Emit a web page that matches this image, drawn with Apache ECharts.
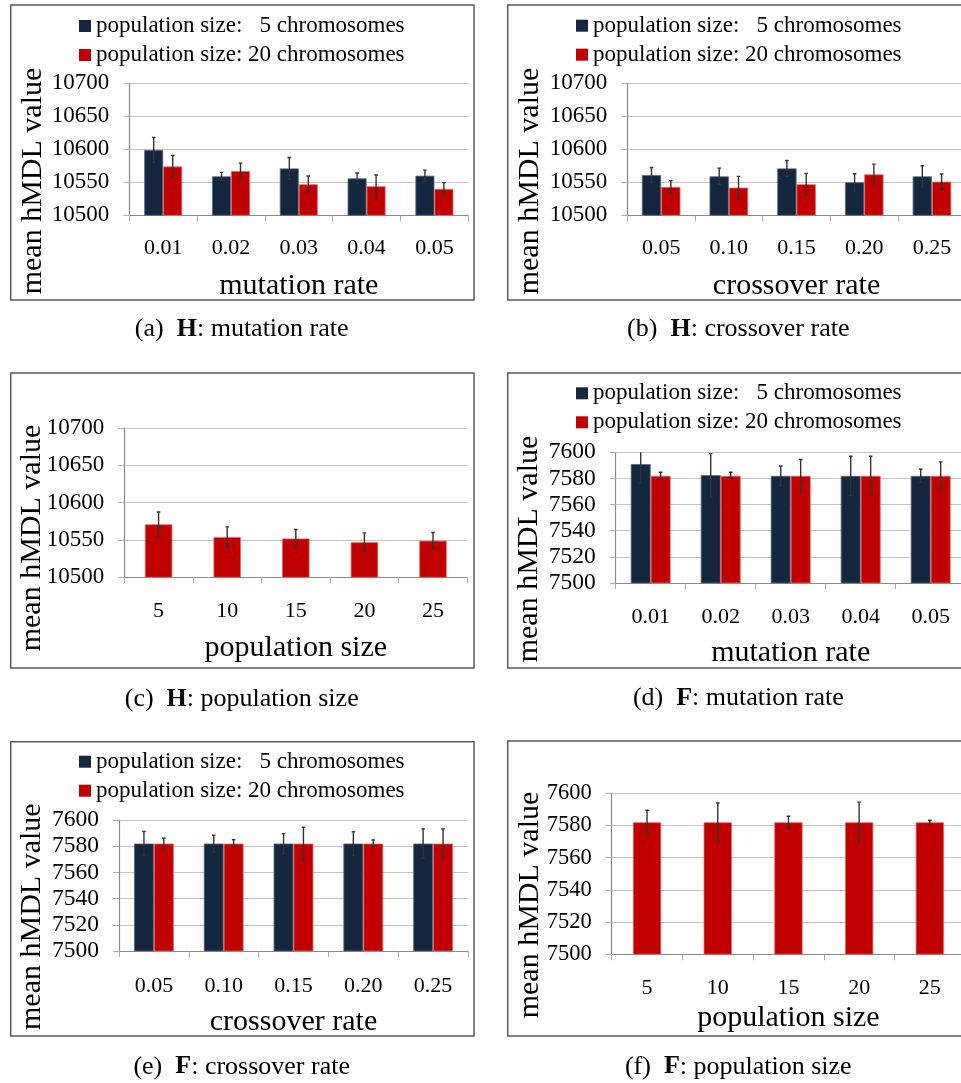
<!DOCTYPE html>
<html>
<head>
<meta charset="utf-8">
<title>mean hMDL value</title>
<script src="https://cdn.jsdelivr.net/npm/echarts@6/dist/echarts.min.js"></script>
<style>
  html, body { margin: 0; padding: 0; background: #fff; overflow: hidden; }
  #chart { width: 970px; height: 1083px; }
</style>
</head>
<body>
<div id="chart"></div>
<script>
// ---- categories and tick values ----
const mutationRates = ['0.01', '0.02', '0.03', '0.04', '0.05'];
const crossoverRates = ['0.05', '0.10', '0.15', '0.20', '0.25'];
const populationSizes = ['5', '10', '15', '20', '25'];
const yTicksH = [10500, 10550, 10600, 10650, 10700];
const yTicksF = [7500, 7520, 7540, 7560, 7580, 7600];
const legend5 = 'population size:   5 chromosomes';
const legend20 = 'population size: 20 chromosomes';

// ---- H: mutation rate ----
const hMutMean5 = [10599, 10559, 10571, 10556, 10560];
const hMutErr5 = [19, 6, 16.5, 8, 8.5];
const hMutMean20 = [10574, 10567, 10547, 10544, 10540];
const hMutErr20 = [16.5, 12, 12.5, 17, 9.5];

// ---- H: crossover rate ----
const hCrossMean5 = [10561, 10559, 10571, 10550, 10559];
const hCrossErr5 = [11.5, 12.5, 12, 13, 16];
const hCrossMean20 = [10543, 10542, 10547, 10562, 10551];
const hCrossErr20 = [9.5, 17, 16.5, 15.5, 11.5];

// ---- H: population size ----
const hPopMean = [10571, 10554, 10552, 10547, 10549];
const hPopErr = [16.5, 13.5, 12, 12.5, 11];

// ---- F: mutation rate ----
const fMutMean5 = [7591, 7582.5, 7582, 7582, 7582];
const fMutErr5 = [14.5, 16.5, 7.5, 15, 5];
const fMutMean20 = [7582, 7582, 7582, 7582, 7582];
const fMutErr20 = [2.7, 2.7, 12.5, 15, 10.7];

// ---- F: crossover rate ----
const fCrossMean5 = [7582, 7582, 7582, 7582, 7582];
const fCrossErr5 = [9.3, 6.4, 7.5, 9, 11.2];
const fCrossMean20 = [7582, 7582, 7582, 7582, 7582];
const fCrossErr20 = [4.2, 3, 12.5, 2.8, 11.2];

// ---- F: population size ----
const fPopMean = [7582, 7582, 7582, 7582, 7582];
const fPopErr = [7.5, 12, 3.7, 12.5, 1.3];

// ---- styling ----
const NAVY = '#15263f';
const NAVY_EDGE = '#5a6a84';
const RED = '#c00000';
const RED_EDGE = '#e46a6a';
const FONT = "'Liberation Serif', 'Times New Roman', serif";
const AXIS_GRAY = '#8a8a8a';
const GRID_GRAY = '#c4c4c4';

// panel layout: plot rectangle, frame, legend and text positions
const panels = [
  { id: 'a', grid: { left: 129.3, top: 83.3, width: 339, height: 132 }, cats: mutationRates, ticks: yTicksH,
    bars: [[hMutMean5, hMutErr5, 5], [hMutMean20, hMutErr20, 20]], gap: 0.44,
    xName: 'mutation rate', nameGap: 56, labelMargin: 22, yLabelSize: 23,
    yTitle: [33, 181], legend: [79, 14.5], frame: [10.7, 5, 463.3, 295],
    caption: ['(a)', 'H', 'mutation rate'], capPos: [241.7, 329] },
  { id: 'b', grid: { left: 627.3, top: 83.3, width: 338.5, height: 132 }, cats: crossoverRates, ticks: yTicksH,
    bars: [[hCrossMean5, hCrossErr5, 5], [hCrossMean20, hCrossErr20, 20]], gap: 0.43,
    xName: 'crossover rate', nameGap: 56, labelMargin: 22, yLabelSize: 23,
    yTitle: [530, 181], legend: [576, 14.2], frame: [507.7, 5, 470, 295],
    caption: ['(b)', 'H', 'crossover rate'], capPos: [738.3, 329] },
  { id: 'c', grid: { left: 124.3, top: 428, width: 343, height: 149.3 }, cats: populationSizes, ticks: yTicksH,
    bars: [[hPopMean, hPopErr, 20]], gap: 0.60,
    xName: 'population size', nameGap: 56, labelMargin: 23.3, yLabelSize: 23,
    yTitle: [32, 538], legend: null, frame: [10.7, 373, 463.3, 295],
    caption: ['(c)', 'H', 'population size'], capPos: [241.7, 699] },
  { id: 'd', grid: { left: 615.7, top: 452.3, width: 350, height: 130.7 }, cats: mutationRates, ticks: yTicksF,
    bars: [[fMutMean5, fMutErr5, 5], [fMutMean20, fMutErr20, 20]], gap: 0.43,
    xName: 'mutation rate', nameGap: 55.5, labelMargin: 23.3, yLabelSize: 23.5,
    yTitle: [529, 549], legend: [576, 381.8], frame: [507.7, 373, 470, 295],
    caption: ['(d)', 'F', 'mutation rate'], capPos: [738.3, 698] },
  { id: 'e', grid: { left: 119, top: 820, width: 349, height: 131 }, cats: crossoverRates, ticks: yTicksF,
    bars: [[fCrossMean5, fCrossErr5, 5], [fCrossMean20, fCrossErr20, 20]], gap: 0.43,
    xName: 'crossover rate', nameGap: 56, labelMargin: 24, yLabelSize: 23.5,
    yTitle: [32.5, 916.7], legend: [79, 750.2], frame: [10.7, 741.7, 463.3, 294.3],
    caption: ['(e)', 'F', 'crossover rate'], capPos: [241.7, 1066.7] },
  { id: 'f', grid: { left: 611.7, top: 793.3, width: 353.5, height: 161 }, cats: populationSizes, ticks: yTicksF,
    bars: [[fPopMean, fPopErr, 20]], gap: 0.60,
    xName: 'population size', nameGap: 48.5, labelMargin: 23, yLabelSize: 22.5,
    yTitle: [530, 905], legend: null, frame: [507.7, 741, 470, 295],
    caption: ['(f)', 'F', 'population size'], capPos: [738.3, 1066.7] }
];

// error bars drawn at the centre of the matching bar slot within each category
function errorBars(axisIndex, means, errs, slot, slots, gap) {
  return {
    type: 'custom',
    xAxisIndex: axisIndex,
    yAxisIndex: axisIndex,
    clip: true,
    z: 5,
    silent: true,
    data: means.map((m, i) => [i, m - errs[i], m + errs[i]]),
    renderItem: function (params, api) {
      const i = api.value(0);
      const lo = api.coord([i, api.value(1)]);
      const hi = api.coord([i, api.value(2)]);
      const band = api.size([1, 0])[0];
      const bw = band * (1 - gap) / slots;
      const x = lo[0] + (slot - (slots - 1) / 2) * bw;
      const cap = 1.8;
      const style = { stroke: '#333333', lineWidth: 1.4 };
      return {
        type: 'group',
        children: [
          { type: 'line', shape: { x1: x, y1: hi[1], x2: x, y2: lo[1] }, style: style },
          { type: 'line', shape: { x1: x - cap, y1: hi[1], x2: x + cap, y2: hi[1] }, style: style },
          { type: 'line', shape: { x1: x - cap, y1: lo[1], x2: x + cap, y2: lo[1] }, style: style }
        ]
      };
    }
  };
}

const grids = [], xAxes = [], yAxes = [], series = [], legends = [], graphics = [];

panels.forEach(function (p, k) {
  grids.push(Object.assign({ containLabel: false }, p.grid));

  xAxes.push({
    type: 'category',
    gridIndex: k,
    data: p.cats,
    boundaryGap: true,
    axisLine: { lineStyle: { color: AXIS_GRAY, width: 1.2 } },
    axisTick: { show: true, length: 6, inside: false, lineStyle: { color: '#a8a8a8' } },
    axisLabel: { margin: p.labelMargin, fontFamily: FONT, fontSize: 22, lineHeight: 22, color: '#000' },
    name: p.xName,
    nameLocation: 'middle',
    nameGap: p.nameGap,
    nameTextStyle: { fontFamily: FONT, fontSize: 30, lineHeight: 30, color: '#000' }
  });

  const t = p.ticks;
  yAxes.push({
    type: 'value',
    gridIndex: k,
    min: t[0],
    max: t[t.length - 1],
    interval: t[1] - t[0],
    axisLine: { show: true, lineStyle: { color: AXIS_GRAY, width: 1.2 } },
    axisTick: { show: true, length: 6, inside: false, lineStyle: { color: '#b0b0b0' } },
    splitLine: { show: true, lineStyle: { color: GRID_GRAY, width: 1.2 } },
    axisLabel: {
      margin: 20, fontFamily: FONT, fontSize: p.yLabelSize, color: '#000',
      formatter: function (v) { return String(v); }
    }
  });

  const slots = p.bars.length;
  p.bars.forEach(function (b, s) {
    const isFive = b[2] === 5;
    series.push({
      type: 'bar',
      name: isFive ? legend5 : legend20,
      xAxisIndex: k,
      yAxisIndex: k,
      data: b[0],
      barGap: '0%',
      barCategoryGap: (p.gap * 100) + '%',
      itemStyle: {
        color: isFive ? NAVY : RED,
        borderColor: isFive ? NAVY_EDGE : RED_EDGE,
        borderWidth: 0.8
      },
      emphasis: { disabled: true },
      animation: false
    });
    series.push(errorBars(k, b[0], b[1], s, slots, p.gap));
  });

  if (p.legend) {
    legends.push({
      left: p.legend[0],
      top: p.legend[1],
      orient: 'vertical',
      padding: 0,
      itemWidth: 12,
      itemHeight: 12,
      itemGap: 6,
      icon: 'rect',
      selectedMode: false,
      itemStyle: { borderWidth: 0 },
      data: [legend5, legend20],
      textStyle: { fontFamily: FONT, fontSize: 23, lineHeight: 23, color: '#000' }
    });
  }

  // panel frame
  graphics.push({
    type: 'rect',
    silent: true,
    shape: { x: p.frame[0], y: p.frame[1], width: p.frame[2], height: p.frame[3] },
    style: { fill: null, stroke: '#5a5a5a', lineWidth: 1.5 },
    z: 100
  });

  // vertical value-axis title
  graphics.push({
    type: 'text',
    silent: true,
    x: p.yTitle[0],
    y: p.yTitle[1],
    rotation: Math.PI / 2,
    style: {
      text: 'mean hMDL value',
      font: '30px ' + FONT,
      fill: '#000',
      align: 'center', verticalAlign: 'middle',
      textAlign: 'center', textVerticalAlign: 'middle'
    }
  });

  // sub-figure caption
  graphics.push({
    type: 'text',
    silent: true,
    x: p.capPos[0],
    y: p.capPos[1],
    style: {
      text: p.caption[0] + '  {b|' + p.caption[1] + '}: ' + p.caption[2],
      font: '26px ' + FONT,
      fill: '#000',
      align: 'center', verticalAlign: 'middle',
      textAlign: 'center', textVerticalAlign: 'middle',
      rich: { b: { fontWeight: 'bold', fontFamily: FONT, fontSize: 26, fill: '#000' } }
    }
  });
});

const chart = echarts.init(document.getElementById('chart'), null, { renderer: 'canvas' });
chart.setOption({
  animation: false,
  backgroundColor: '#fff',
  textStyle: { fontFamily: FONT },
  grid: grids,
  xAxis: xAxes,
  yAxis: yAxes,
  legend: legends,
  series: series,
  graphic: { elements: graphics }
});
</script>
</body>
</html>
